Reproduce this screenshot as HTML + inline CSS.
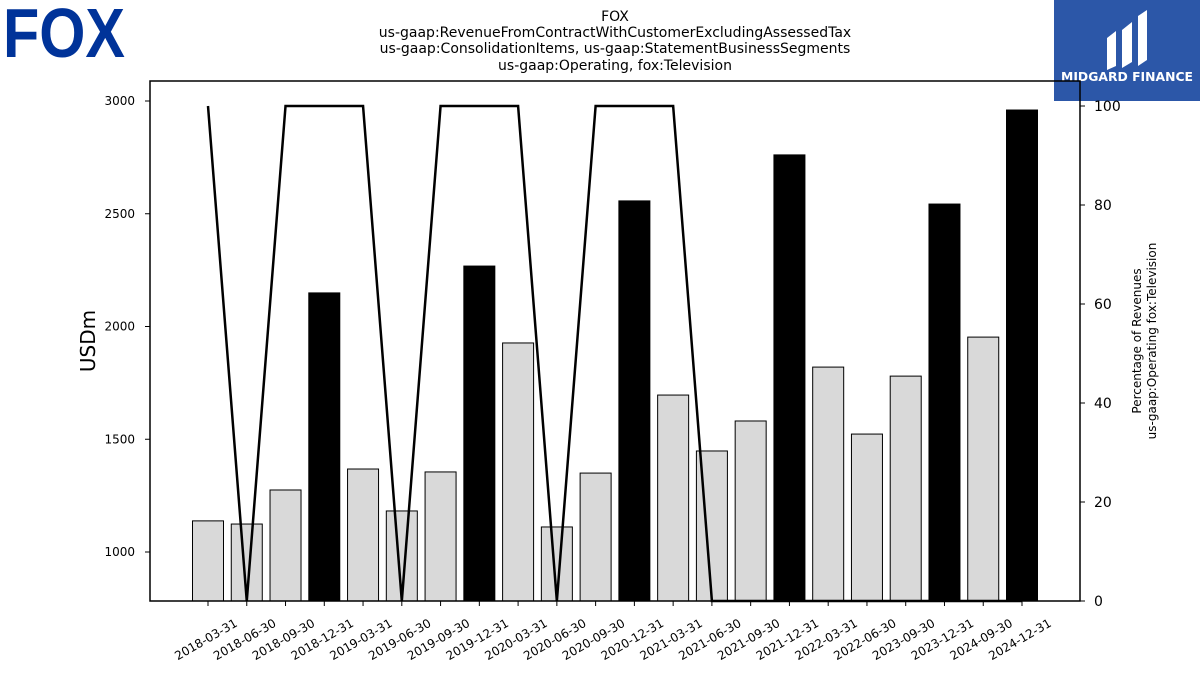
<!DOCTYPE html>
<html><head><meta charset="utf-8"><style>
body{margin:0;background:#fff;width:1200px;height:675px;overflow:hidden;font-family:"DejaVu Sans","Liberation Sans",sans-serif}
</style></head><body>
<svg width="1200" height="675" xmlns="http://www.w3.org/2000/svg" font-family="DejaVu Sans, Liberation Sans, sans-serif">
<g>
<text x="3" y="57" font-family="Liberation Sans, sans-serif" font-weight="bold" font-size="70" fill="#003399" textLength="122" lengthAdjust="spacingAndGlyphs">FOX</text>
</g>
<g>
<rect x="1054" y="0" width="146" height="101" fill="#2c57a8"/>
<path d="M1107 70 L1107 38 L1116 31 L1116 66 Z M1122 68 L1122 30 L1132 22 L1132 62 Z M1138 66 L1138 16 L1147 10 L1147 60 Z" fill="#fff"/>
<text x="1127" y="81" text-anchor="middle" font-size="12" font-weight="bold" fill="#fff" textLength="132" lengthAdjust="spacingAndGlyphs">MIDGARD FINANCE</text>
</g>
<g font-size="14" text-anchor="middle" fill="#000">
<text x="615" y="21">FOX</text>
<text x="615" y="37">us-gaap:RevenueFromContractWithCustomerExcludingAssessedTax</text>
<text x="615" y="53">us-gaap:ConsolidationItems, us-gaap:StatementBusinessSegments</text>
<text x="615" y="70">us-gaap:Operating, fox:Television</text>
</g>
<g id="plot"></g>
<rect x="150" y="81" width="930" height="520" fill="none" stroke="#000" stroke-width="1.5"/>
<text transform="translate(95,341) rotate(-90)" text-anchor="middle" font-size="20">USDm</text>
<text transform="translate(1141,341) rotate(-90)" text-anchor="middle" font-size="12"><tspan x="0" dy="0">Percentage of Revenues</tspan><tspan x="0" dy="15">us-gaap:Operating fox:Television</tspan></text>
</svg>
<script>
const categories=["2018-03-31","2018-06-30","2018-09-30","2018-12-31","2019-03-31","2019-06-30","2019-09-30","2019-12-31","2020-03-31","2020-06-30","2020-09-30","2020-12-31","2021-03-31","2021-06-30","2021-09-30","2021-12-31","2022-03-31","2022-06-30","2023-09-30","2023-12-31","2024-09-30","2024-12-31"];
const revenues=[1138,1124,1275,2149,1368,1182,1355,2268,1927,1111,1350,2557,1696,1448,1581,2761,1820,1523,1780,2543,1953,2960];
const highlight=[0,0,0,1,0,0,0,1,0,0,0,1,0,0,0,1,0,0,0,1,0,1];
const percentages=[100,0,100,100,100,0,100,100,100,0,100,100,100,0,0,0,0,0,0,0,0,0];
const leftTicks=[1000,1500,2000,2500,3000];
const rightTicks=[0,20,40,60,80,100];
const NS="http://www.w3.org/2000/svg";
const g=document.getElementById('plot');
const yL=v=>552-(v-1000)*0.2255;
const yR=v=>601-v*4.95;
const xC=i=>208+i*(814/21);
function mk(t,a){const e=document.createElementNS(NS,t);for(const k in a)e.setAttribute(k,a[k]);g.appendChild(e);return e;}
revenues.forEach((v,i)=>{
 const r=mk('rect',{x:xC(i)-15.5,y:yL(v),width:31,height:601-yL(v),fill:highlight[i]?'#000':'#d9d9d9',stroke:'#000','stroke-width':1});
 
 
 mk('line',{x1:xC(i),x2:xC(i),y1:601,y2:606,stroke:'#000'});
 const t=mk('text',{transform:`translate(${xC(i)},${643}) rotate(-30)`,'text-anchor':'middle','font-size':12});
 t.textContent=categories[i];
 
 
});
const pl=mk('polyline',{points:percentages.map((p,i)=>xC(i)+','+yR(p)).join(' '),fill:'none',stroke:'#000','stroke-width':2.5});


leftTicks.forEach(v=>{
 mk('line',{x1:145,x2:150,y1:yL(v),y2:yL(v),stroke:'#000'});
 const t=mk('text',{x:135,y:yL(v)+4,'text-anchor':'end','font-size':12});t.textContent=v;
 
 
});
rightTicks.forEach(v=>{
 mk('line',{x1:1080,x2:1085,y1:yR(v),y2:yR(v),stroke:'#000'});
 const t=mk('text',{x:1094,y:yR(v)+5,'font-size':14});t.textContent=v;
 
 
});
</script>
</body></html>
